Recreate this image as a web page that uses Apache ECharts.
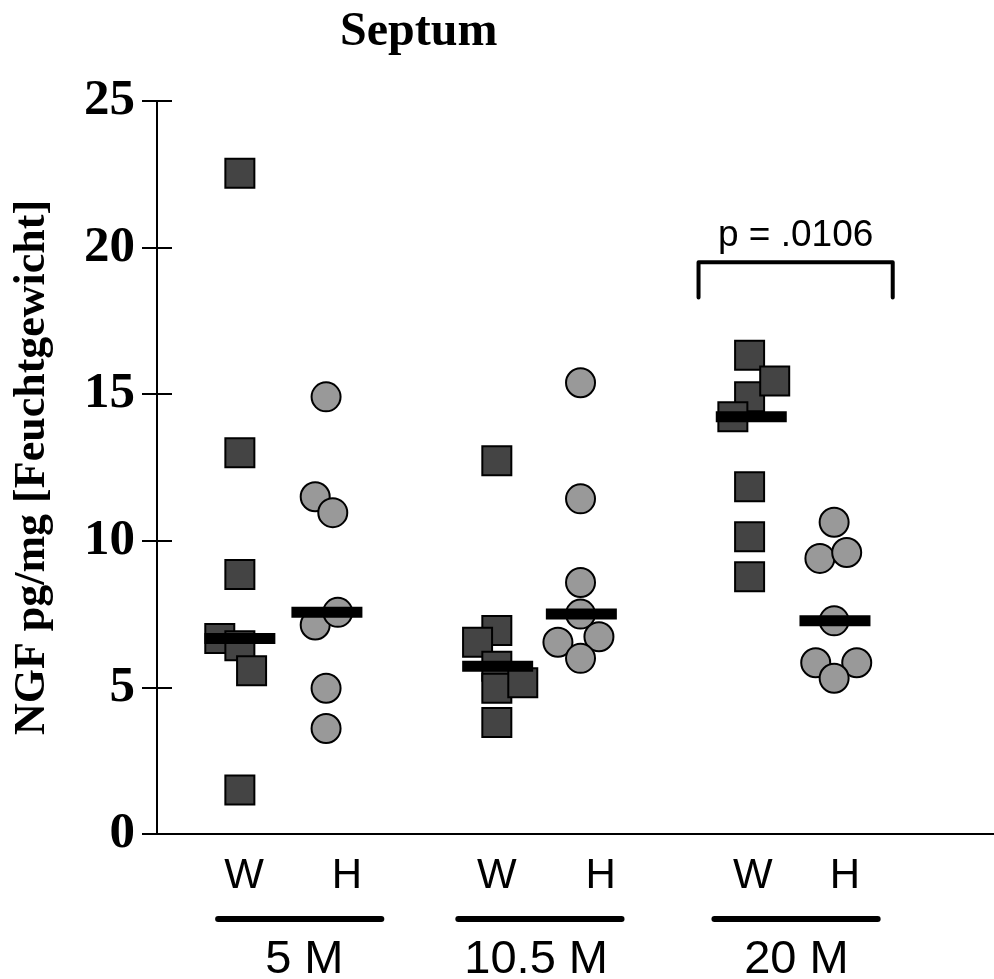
<!DOCTYPE html>
<html>
<head>
<meta charset="utf-8">
<script src="https://cdn.jsdelivr.net/npm/echarts@6/dist/echarts.min.js"></script>
<style>
  html, body { margin: 0; padding: 0; background: #fff; }
  #chart { width: 994px; height: 979px; }
</style>
</head>
<body>
<div id="chart"></div>
<script>
// groups and sub labels
var groups = ["5 M", "10.5 M", "20 M"];
var subLabels = ["W", "H", "W", "H", "W", "H"];
var yTicks = [0, 5, 10, 15, 20, 25];

// NGF values (pg/mg), with their horizontal jitter
var w5 = [22.54, 13.0, 8.85, 6.67, 6.42, 5.57, 1.5];
var w5x = [0.99, 0.99, 0.99, 0.75, 0.99, 1.13, 0.99];
var h5 = [14.91, 11.5, 10.96, 7.13, 7.56, 4.97, 3.6];
var h5x = [2.02, 1.89, 2.1, 1.89, 2.16, 2.02, 2.02];
var w10 = [12.73, 6.94, 6.54, 5.72, 4.97, 5.16, 3.8];
var w10x = [4.06, 4.06, 3.83, 4.06, 4.06, 4.37, 4.06];
var h10 = [15.39, 11.43, 8.58, 7.5, 6.73, 6.54, 5.99];
var h10x = [5.06, 5.06, 5.06, 5.06, 5.28, 4.79, 5.06];
var w20 = [16.33, 14.91, 15.45, 14.23, 11.84, 10.14, 8.77];
var w20x = [7.08, 7.08, 7.38, 6.88, 7.08, 7.08, 7.08];
var h20 = [10.63, 9.4, 9.6, 7.27, 5.84, 5.84, 5.31];
var h20x = [8.09, 7.92, 8.24, 8.09, 7.87, 8.36, 8.09];

// where the median bars, the labels and the underlines sit on the x scale
var medWx = [0.99, 4.07, 7.1];
var medHx = [2.03, 5.07, 8.1];
var subLabelX = [1.04, 2.27, 4.06, 5.3, 7.12, 8.22];
var groupLabelX = [1.76, 4.53, 7.64];
var underlines = [[0.73, 2.68], [3.6, 5.55], [6.66, 8.61]];

// significance bracket for 20 M
var bracketX = [6.47, 8.79];
var bracketY = [18.3, 19.5];
var pText = "p = .0106";
var pPos = [7.63, 20.4];

function pairs(xs, ys) {
  return ys.map(function (v, i) { return [xs[i], v]; });
}
function median(a) {
  var s = a.slice().sort(function (p, q) { return p - q; });
  return s[Math.floor(s.length / 2)];
}

var medW = [median(w5), median(w10), median(w20)];
var medH = [median(h5), median(h10), median(h20)];

var serif = "'Liberation Serif', 'Times New Roman', serif";
var sans = "'Liberation Sans', Arial, sans-serif";

var squareStyle = { color: "#444444", borderColor: "#000", borderWidth: 2, opacity: 1 };
var circleStyle = { color: "#999999", borderColor: "#000", borderWidth: 2, opacity: 1 };

function squares(xs, ys) {
  return { type: "scatter", symbol: "rect", symbolSize: 29, itemStyle: squareStyle, data: pairs(xs, ys), z: 3 };
}
function circles(xs, ys) {
  return { type: "scatter", symbol: "circle", symbolSize: 29, itemStyle: circleStyle, data: pairs(xs, ys), z: 3 };
}

var myChart = echarts.init(document.getElementById("chart"));

myChart.setOption({
  animation: false,
  backgroundColor: "#fff",
  title: {
    text: "Septum",
    left: 335,
    top: 4,
    textStyle: { fontFamily: serif, fontWeight: "bold", fontSize: 48, color: "#000" }
  },
  grid: { left: 157, right: 0, top: 101, bottom: 145, containLabel: false, outerBoundsMode: "none" },
  xAxis: {
    type: "value",
    min: 0,
    max: 10,
    axisLine: { show: true, onZero: false, lineStyle: { color: "#000", width: 2 } },
    axisTick: { show: false },
    axisLabel: { show: false },
    splitLine: { show: false }
  },
  yAxis: [
    {
      type: "value",
      min: 0,
      max: 25,
      interval: 5,
      name: "NGF pg/mg [Feuchtgewicht]",
      nameLocation: "middle",
      nameRotate: 90,
      nameGap: 102,
      nameTextStyle: { fontFamily: serif, fontWeight: "bold", fontSize: 44, color: "#000" },
      axisLine: { show: true, lineStyle: { color: "#000", width: 2 } },
      axisTick: { show: true, length: 15, lineStyle: { color: "#000", width: 2 } },
      axisLabel: {
        margin: 22,
        fontFamily: serif,
        fontWeight: "bold",
        fontSize: 51,
        color: "#000",
        formatter: function (v) { return yTicks.indexOf(v) >= 0 ? String(v) : ""; }
      },
      splitLine: { show: false }
    },
    {
      // same scale, ticks drawn inward so they cross the axis
      type: "value",
      min: 0,
      max: 25,
      interval: 5,
      position: "left",
      axisLine: { show: false },
      axisTick: { show: true, inside: true, length: 15, lineStyle: { color: "#000", width: 2 } },
      axisLabel: { show: false },
      splitLine: { show: false }
    }
  ],
  series: [
    squares(w5x, w5),
    circles(h5x, h5),
    squares(w10x, w10),
    circles(h10x, h10),
    squares(w20x, w20),
    circles(h20x, h20),
    {
      type: "scatter",
      symbol: "rect",
      symbolSize: [71, 11],
      itemStyle: { color: "#000", opacity: 1 },
      data: pairs(medWx, medW).concat(pairs(medHx, medH)),
      z: 5
    },
    {
      type: "line",
      symbol: "none",
      lineStyle: { color: "#000", width: 4, cap: "round", join: "round" },
      data: [
        [bracketX[0], bracketY[0]],
        [bracketX[0], bracketY[1]],
        [bracketX[1], bracketY[1]],
        [bracketX[1], bracketY[0]]
      ],
      z: 4
    }
  ]
});

// labels under the axis, placed from the x scale
var graphics = [];
subLabels.forEach(function (t, i) {
  var px = myChart.convertToPixel({ xAxisIndex: 0 }, subLabelX[i]);
  graphics.push({
    type: "text",
    x: px, y: 876,
    style: { text: t, fontFamily: sans, fontSize: 42, fill: "#000", align: "center", verticalAlign: "middle" }
  });
});
underlines.forEach(function (u) {
  var x1 = myChart.convertToPixel({ xAxisIndex: 0 }, u[0]);
  var x2 = myChart.convertToPixel({ xAxisIndex: 0 }, u[1]);
  graphics.push({
    type: "line",
    shape: { x1: x1, y1: 919, x2: x2, y2: 919 },
    style: { stroke: "#000", lineWidth: 6, lineCap: "round" }
  });
});
groups.forEach(function (g, i) {
  var px = myChart.convertToPixel({ xAxisIndex: 0 }, groupLabelX[i]);
  graphics.push({
    type: "text",
    x: px, y: 960,
    style: { text: g, fontFamily: sans, fontSize: 47, fill: "#000", align: "center", verticalAlign: "middle" }
  });
});
var pp = myChart.convertToPixel({ xAxisIndex: 0, yAxisIndex: 0 }, pPos);
graphics.push({
  type: "text",
  x: pp[0], y: pp[1],
  style: { text: pText, fontFamily: sans, fontSize: 37, fill: "#000", align: "center", verticalAlign: "middle" }
});

myChart.setOption({ graphic: graphics });
</script>
</body>
</html>
